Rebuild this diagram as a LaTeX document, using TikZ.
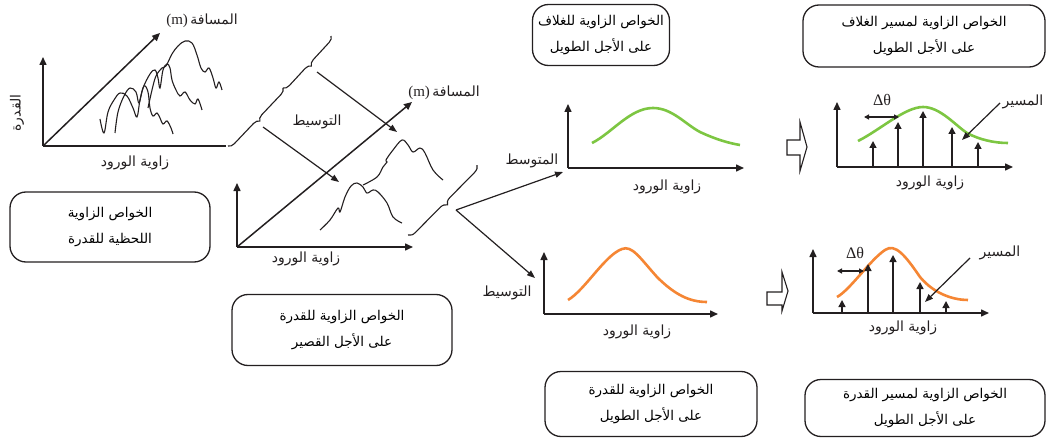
\documentclass[tikz,border=0pt]{standalone}
\usepackage{fontspec}
\setmainfont{Liberation Serif}
\newfontfamily\arabicfont[Script=Arabic]{DejaVu Sans}
\TeXXeTstate=1
\usetikzlibrary{arrows.meta,decorations.pathreplacing}
\newcommand\AR[1]{{\arabicfont\beginR #1\endR}}
\definecolor{ink}{HTML}{231F20}
\definecolor{lgreen}{HTML}{7DC642}
\definecolor{lorange}{HTML}{F58634}
\begin{document}
\begin{tikzpicture}[x=1pt,y=-1pt,
  axis/.style={line width=1.5pt, draw=ink, -{Triangle[length=8pt,width=7pt]}},
  conn/.style={line width=1.2pt, draw=ink, -{Triangle[length=8pt,width=6pt]}},
  stem/.style={line width=1.4pt, draw=ink, -{Triangle[length=7pt,width=7pt]}},
  dth/.style={line width=1.3pt, draw=ink, {Triangle[length=5pt,width=5pt]}-{Triangle[length=5pt,width=5pt]}},
  wig/.style={line width=1.1pt, draw=ink},
  env/.style={line width=2.6pt},
  bracestyle/.style={line width=1.1pt, draw=ink, decorate, decoration={brace, amplitude=6pt}},
  infobox/.style={draw=ink, line width=1.3pt, rounded corners=16pt, align=center, inner sep=0pt, font=\fontsize{13.5}{26}\selectfont},
  lbl/.style={inner sep=0pt, font=\fontsize{14}{16}\selectfont, text=ink},
  blockarrow/.style={draw=ink, line width=1.1pt, fill=white},
]
\useasboundingbox (0,0) rectangle (1055,441);

% ---------- plot 1 (instantaneous) ----------
\coordinate (o1) at (43,146);
\coordinate (y1) at (43,57);
\coordinate (x1) at (226,146);
\coordinate (d1) at (160,33);
\draw[axis] (o1) -- (y1);
\draw[line width=1.5pt, draw=ink] (o1) -- (x1);
\draw[axis] (o1) -- (d1);
\node[lbl] (dist1) at (202,21) {\fontsize{15}{15}\selectfont(m)\,\AR{\fontsize{14}{14}\selectfont المسافة}};
\node[lbl, rotate=90] (pw1) at (17,113) {\AR{القدرة}};
\node[lbl] (ang1) at (135,163) {\AR{زاوية الورود}};
\draw[wig] plot[smooth, tension=0.6] coordinates {(100,119) (104,133) (108,112) (114,100) (120,93) (127,96) (133,108) (137,117) (140,100) (144,86) (148,92) (150,108) (153,116) (157,113) (160,118) (163,124) (167,121) (171,128) (173,134)};
\draw[wig] plot[smooth, tension=0.6] coordinates {(115,133) (118,112) (124,96) (130,88) (136,92) (139,103) (143,88) (150,74) (155,70) (158,78) (160,88) (163,70) (167,64) (170,68) (172,80) (176,90) (180,96) (185,92) (190,100) (195,104) (198,99) (202,110)};
\draw[wig] plot[smooth, tension=0.6] coordinates {(148,108) (152,90) (156,76) (162,68) (166,66) (172,54) (178,46) (185,41) (192,43) (197,55) (201,68) (205,72) (209,68) (213,78) (216,88) (219,82) (222,90)};

\node[infobox, minimum width=200pt, minimum height=70pt] (box1) at (110,227) {\AR{الخواص الزاوية}\\\AR{اللحظية للقدرة}};

% ---------- braces 1 and arrows (averaging) ----------
\coordinate (ba) at (228,146);
\coordinate (bb) at (283,88);
\coordinate (bc) at (331,36);
\draw[bracestyle, decoration={mirror}] (ba) -- (bb);
\draw[bracestyle, decoration={mirror}] (bb) -- (bc);
\coordinate (c1) at (263,127);
\coordinate (c2) at (317,72);
\coordinate (t1) at (339,182);
\coordinate (t2) at (397,132);
\draw[conn] (c1) -- (t1);
\draw[conn] (c2) -- (t2);
\node[lbl] (avg1) at (317,122) {\AR{التوسيط}};

% ---------- plot 2 (short term) ----------
\coordinate (o2) at (237,247);
\coordinate (y2) at (237,183);
\coordinate (x2) at (413,247);
\coordinate (d2) at (412,102);
\draw[axis] (o2) -- (y2);
\draw[axis] (o2) -- (x2);
\draw[axis] (o2) -- (d2);
\node[lbl] (dist2) at (444,93) {\fontsize{15}{15}\selectfont(m)\,\AR{\fontsize{14}{14}\selectfont المسافة}};
\node[lbl] (ang2) at (306,259) {\AR{زاوية الورود}};
\draw[wig] plot[smooth, tension=0.6] coordinates {(320,230) (330,220) (338,208) (340,212) (345,197) (351,186) (357,183) (363,187) (367,193) (373,190) (378,192) (387,203) (393,217) (402,223)};
\draw[wig] plot[smooth, tension=0.6] coordinates {(363,185) (377,177) (383,167) (387,162) (386,160) (393,150) (402,140) (408,145) (413,152) (420,148) (425,153) (433,170) (443,180)};

\node[infobox, minimum width=220pt, minimum height=71pt] (box2) at (342,330) {\AR{الخواص الزاوية للقدرة}\\\AR{على الأجل القصير}};

% ---------- brace 2 and arrows ----------
\coordinate (bd) at (408,235);
\coordinate (be) at (477,165);
\draw[bracestyle, decoration={mirror, amplitude=7pt}] (bd) -- (be);
\coordinate (c3) at (456,210);
\coordinate (t3) at (563,172);
\coordinate (t4) at (535,278);
\draw[conn] (c3) -- (t3);
\draw[conn] (c3) -- (t4);
\node[lbl] (mean) at (532,161) {\AR{المتوسط}};
\node[lbl] (avg2) at (507,293) {\AR{التوسيط}};

% ---------- plot 3 (envelope, green) ----------
\coordinate (o3) at (568,168);
\coordinate (y3) at (568,104);
\coordinate (x3) at (744,168);
\draw[axis] (o3) -- (y3);
\draw[axis] (o3) -- (x3);
\draw[env, lgreen] (592,143) .. controls (612,133) and (630,108) .. (653,108) .. controls (672,108) and (685,124) .. (700,132) .. controls (715,139) and (728,143) .. (740,145);
\node[lbl] (ang3) at (667,187) {\AR{زاوية الورود}};
\node[infobox, minimum width=137pt, minimum height=61pt] (box3) at (601,35) {\AR{الخواص الزاوية للغلاف}\\\AR{على الأجل الطويل}};

% ---------- plot 4 (power, orange) ----------
\coordinate (o4) at (544,314);
\coordinate (y4) at (544,252);
\coordinate (x4) at (718,314);
\draw[axis] (o4) -- (y4);
\draw[axis] (o4) -- (x4);
\draw[env, lorange] (568,300) .. controls (585,290) and (605,255) .. (622,249) .. controls (632,245) and (640,258) .. (657,277) .. controls (675,295) and (690,302) .. (707,302);
\node[lbl] (ang4) at (637,332) {\AR{زاوية الورود}};
\node[infobox, minimum width=212pt, minimum height=65pt] (box5) at (651,404) {\AR{الخواص الزاوية للقدرة}\\\AR{على الأجل الطويل}};

% ---------- plot 5 (envelope path, green) ----------
\draw[blockarrow] (787,140) -- (800,140) -- (800,122) -- (807,147) -- (800,171) -- (800,155) -- (787,155) -- cycle;
\coordinate (o5) at (837,167);
\coordinate (y5) at (837,102);
\coordinate (x5) at (1013,167);
\draw[axis] (o5) -- (y5);
\draw[axis] (o5) -- (x5);
\draw[env, lgreen] (858,141) .. controls (880,130) and (905,107) .. (923,107) .. controls (940,107) and (955,125) .. (967,133) .. controls (980,140) and (995,143) .. (1008,143);
\foreach \xx/\yy [count=\i] in {873/141, 898/122, 923/111, 952/127, 978/142} {
  \coordinate (s5b\i) at (\xx,167);
  \coordinate (s5t\i) at (\xx,\yy);
  \draw[stem] (s5b\i) -- (s5t\i);
}
\coordinate (dl5) at (864,117);
\coordinate (dr5) at (899,117);
\draw[dth] (dl5) -- (dr5);
\node[lbl] (dth5) at (882,100) {\fontsize{16}{16}\selectfont Δθ};
\node[lbl] (path5) at (1023,102) {\AR{المسير}};
\coordinate (pa5) at (1000,103);
\coordinate (pb5) at (962,140);
\draw[conn] (pa5) -- (pb5);
\node[lbl] (ang5) at (930,183) {\AR{زاوية الورود}};
\node[infobox, minimum width=242pt, minimum height=62pt] (box4) at (924,36) {\AR{الخواص الزاوية لمسير الغلاف}\\\AR{على الأجل الطويل}};

% ---------- plot 6 (power path, orange) ----------
\draw[blockarrow] (767,292) -- (782,292) -- (782,272) -- (788,291) -- (782,311) -- (782,305) -- (767,305) -- cycle;
\coordinate (o6) at (813,313);
\coordinate (y6) at (813,249);
\coordinate (x6) at (989,313);
\draw[axis] (o6) -- (y6);
\draw[axis] (o6) -- (x6);
\draw[env, lorange] (837,297) .. controls (850,290) and (870,260) .. (885,250) .. controls (895,243) and (905,255) .. (920,277) .. controls (935,295) and (955,300) .. (968,300);
\foreach \xx/\yy [count=\i] in {842/300, 868/264, 893/255, 920/282, 946/301} {
  \coordinate (s6b\i) at (\xx,313);
  \coordinate (s6t\i) at (\xx,\yy);
  \draw[stem] (s6b\i) -- (s6t\i);
}
\coordinate (dl6) at (837,271);
\coordinate (dr6) at (864,271);
\draw[dth] (dl6) -- (dr6);
\node[lbl] (dth6) at (855,253) {\fontsize{16}{16}\selectfont Δθ};
\node[lbl] (path6) at (1000,253) {\AR{المسير}};
\coordinate (pa6) at (970,258);
\coordinate (pb6) at (925,302);
\draw[conn] (pa6) -- (pb6);
\node[lbl] (ang6) at (903,328) {\AR{زاوية الورود}};
\node[infobox, minimum width=240pt, minimum height=57pt] (box6) at (925,408) {\AR{الخواص الزاوية لمسير القدرة}\\\AR{على الأجل الطويل}};
\end{tikzpicture}
\end{document}
